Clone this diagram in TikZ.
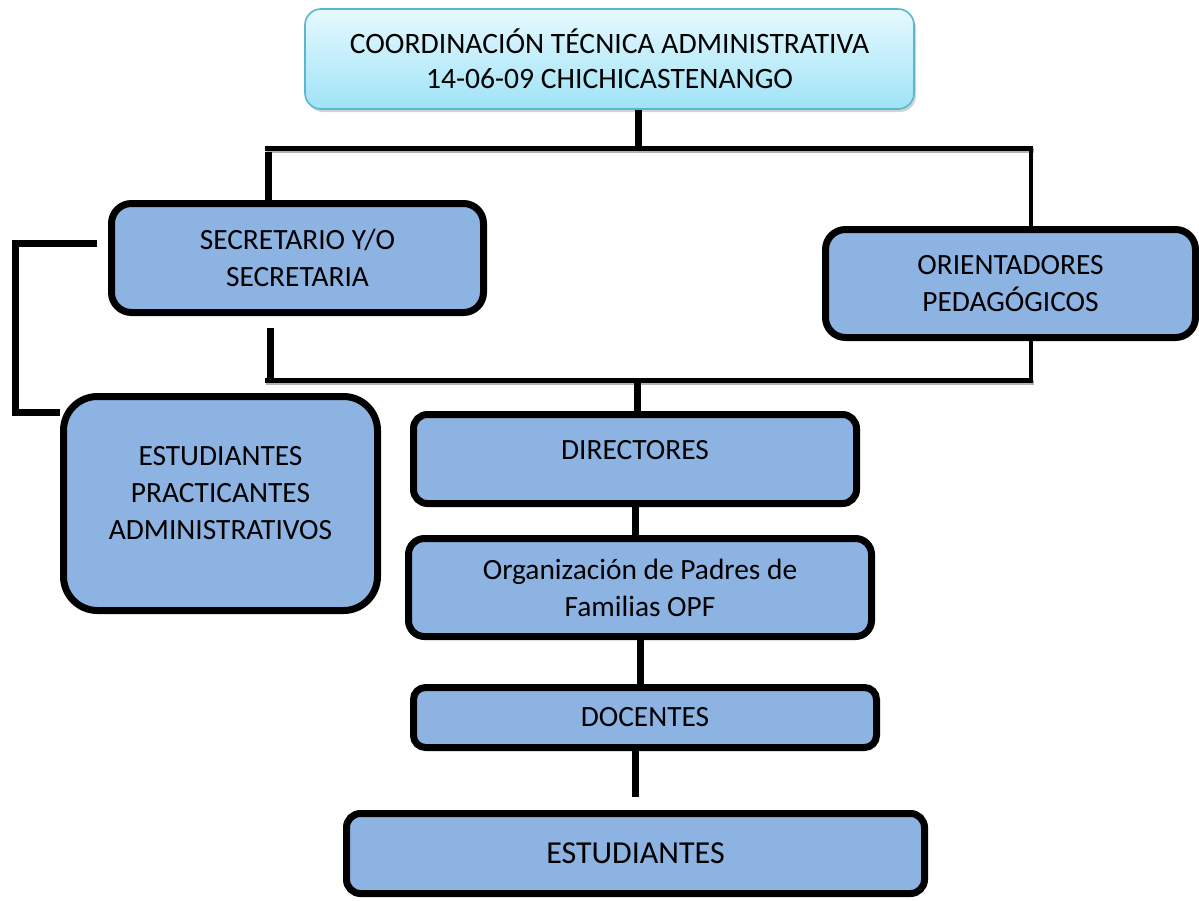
\documentclass[tikz,border=0pt]{standalone}
\usepackage{fontspec}
\setmainfont{Carlito}
\usepackage{tikz}
\usetikzlibrary{positioning, calc, shadows}
\definecolor{boxfill}{HTML}{8DB3E2}
\definecolor{topfillA}{HTML}{E6F9FE}
\definecolor{topfillB}{HTML}{9FE3F7}
\definecolor{topline}{HTML}{5BB6D0}
\tikzset{
  boxtop/.style   = {draw=topline, line width=0.8pt, rounded corners=8pt,
                     top color=topfillA, bottom color=topfillB,
                     drop shadow={shadow xshift=1pt, shadow yshift=-1.5pt, opacity=0.35},
                     font=\fontsize{14.8}{17.5}\selectfont, align=center, inner sep=2pt},
  boxorg/.style   = {draw, line width=3.5pt, fill=boxfill,
                     font=\fontsize{14.7}{18.5}\selectfont, align=center, inner sep=2pt},
  bar/.style      = {line width=3.5pt},
  thinbar/.style  = {line width=2pt},
  bus/.style      = {line width=2.5pt,
                     preaction={draw=black!30, line width=2.5pt,
                                transform canvas={shift={(0.6pt,-1.4pt)}}}},
}
\begin{document}
\begin{tikzpicture}[x=0.5pt, y=-0.5pt]
    \useasboundingbox (0,0) rectangle (1199,900);

    \node[boxtop, minimum width=304.5pt, minimum height=50pt] (coord) at (609.5,59)
         {COORDINACIÓN TÉCNICA ADMINISTRATIVA\\14-06-09 CHICHICASTENANGO};
    \node[boxorg, rounded corners=10pt, minimum width=186pt, minimum height=54.5pt] (secr) at (297.5,258)
         {SECRETARIO Y/O\\SECRETARIA};
    \node[boxorg, rounded corners=10pt, minimum width=185pt, minimum height=54pt] (orient) at (1010.5,283.5)
         {ORIENTADORES\\PEDAGÓGICOS};
    \node[boxorg, rounded corners=17pt, minimum width=157pt, minimum height=107pt] (prac) at (220.5,503.5)
         {ESTUDIANTES\\PRACTICANTES\\ADMINISTRATIVOS\\[-7.5pt]\mbox{}};
    \node[boxorg, rounded corners=7pt, minimum width=221.5pt, minimum height=44.5pt,
          text height=10pt, text depth=10pt] (direct) at (635,459) {DIRECTORES};
    \node[boxorg, rounded corners=8pt, minimum width=231.5pt, minimum height=49pt] (opf) at (640,587.5)
         {Organización de Padres de\\Familias OPF};
    \node[boxorg, rounded corners=6pt, minimum width=231.5pt, minimum height=30pt] (doc) at (645,717.5)
         {DOCENTES};
    \node[boxorg, rounded corners=7pt, minimum width=289pt, minimum height=40pt,
          font=\fontsize{16}{18.5}\selectfont] (est) at (635.5,853.5) {ESTUDIANTES};

    % upper bus
    \coordinate (b1w) at (265,148);
    \coordinate (b1e) at (1033,148);
    \coordinate (j1)  at (268,148);
    \coordinate (t1)  at (638,148);
    \coordinate (j2)  at (1031,148);
    \draw[bus] (b1w) -- (b1e);
    \draw[bar] (coord.south -| t1) -- (t1);
    \draw[bar] ([yshift=-2pt]j1) -- (secr.north -| j1);
    \draw[thinbar] (j2) -- (orient.north -| j2);

    % lower bus
    \coordinate (b2w) at (265,380);
    \coordinate (b2e) at (1033,380);
    \coordinate (j3)  at (270,380);
    \coordinate (j4)  at (637,380);
    \coordinate (j5)  at (1031,380);
    \draw[bus] (b2w) -- (b2e);
    \draw[bar] ([yshift=-5.75pt]secr.south -| j3) -- (j3);
    \draw[thinbar] (orient.south -| j5) -- (j5);
    \draw[bar] (j4) -- (direct.north -| j4);

    % side link
    \draw[bar] ([shift={(-11,-15)}]secr.west) -| ([shift={(-45,19)}]prac.north west)
               -- ([shift={(0,19)}]prac.north west);

    % chain
    \draw[bar] (direct.south) -- (direct.south |- opf.north);
    \draw[bar] (opf.south) -- (opf.south |- doc.north);
    \draw[bar] (doc.south -| est.north) -- ([yshift=6.75pt]est.north);
  \end{tikzpicture}
\end{document}
